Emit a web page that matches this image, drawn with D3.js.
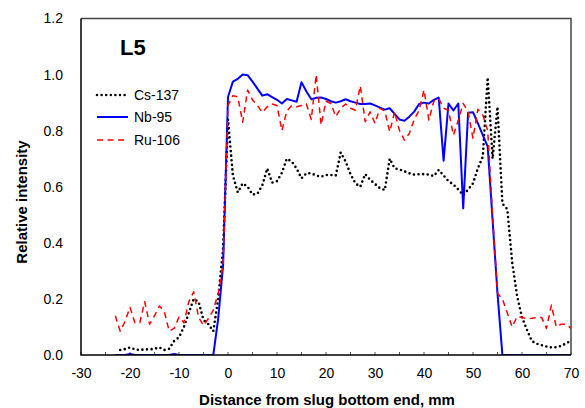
<!doctype html>
<html>
<head>
    <meta charset="utf-8"/>
    <style>
        html, body {
            margin: 0;
            padding: 0;
            background: #fff;
        }
        svg {
            display: block;
            font-family: "Liberation Sans", Arial, sans-serif;
        }
        .ticklabel {
            font-size: 14px;
            fill: #000;
        }
        .title {
            font-size: 15px;
            font-weight: bold;
        }
    </style>
    <script src="https://d3js.org/d3.v7.min.js"></script>
</head>
<body>

<svg id="chart" width="585" height="408"></svg>

<script>

    // Distance from slug bottom end, mm (one reading per mm)
    var distance = [
        -23, -22, -21, -20, -19, -18, -17, -16, -15, -14,
        -13, -12, -11, -10, -9, -8, -7, -6, -5, -4,
        -3, -2, -1, 0, 1, 2, 3, 4, 5, 6,
        7, 8, 9, 10, 11, 12, 13, 14, 15, 16,
        17, 18, 19, 20, 21, 22, 23, 24, 25, 26,
        27, 28, 29, 30, 31, 32, 33, 34, 35, 36,
        37, 38, 39, 40, 41, 42, 43, 44, 45, 46,
        47, 48, 49, 50, 51, 52, 53, 54, 55, 56,
        57, 58, 59, 60, 61, 62, 63, 64, 65, 66,
        67, 68, 69, 70
    ];

    var cs137 = [
        null, 0.018, 0.021, 0.027, 0.020, 0.018, 0.020, 0.020, 0.022, 0.027,
        0.018, 0.022, 0.050, 0.063, 0.100, 0.150, 0.200, 0.190, 0.125, 0.110,
        0.085, 0.200, 0.380, 0.840, 0.640, 0.580, 0.612, 0.600, 0.572, 0.575,
        0.605, 0.665, 0.615, 0.620, 0.650, 0.700, 0.690, 0.665, 0.630, 0.648,
        0.648, 0.640, 0.636, 0.642, 0.642, 0.640, 0.722, 0.690, 0.645, 0.612,
        0.600, 0.645, 0.625, 0.610, 0.595, 0.588, 0.700, 0.666, 0.662, 0.655,
        0.648, 0.643, 0.645, 0.645, 0.643, 0.638, 0.660, 0.640, 0.620, 0.608,
        0.590, 0.570, 0.590, 0.612, 0.666, 0.707, 0.990, 0.700, 0.885, 0.540,
        0.520, 0.330, 0.210, 0.135, 0.090, 0.050, 0.040, 0.035, 0.030, 0.027,
        0.028, 0.032, 0.042, 0.050
    ];

    var nb95 = [
        0, 0, 0, 0.004, 0, 0, 0, 0, 0, 0,
        0, 0, 0.004, 0, 0, 0, 0, 0, 0, 0,
        0, 0.13, 0.32, 0.92, 0.975, 0.985, 1.0, 0.998, 0.975, 0.95,
        0.925, 0.93, 0.92, 0.91, 0.897, 0.913, 0.908, 0.903, 0.973, 0.94,
        0.912, 0.917, 0.918, 0.913, 0.905, 0.90, 0.905, 0.912, 0.905, 0.90,
        0.895, 0.895, 0.897, 0.89, 0.882, 0.875, 0.88, 0.86, 0.84, 0.835,
        0.85, 0.868, 0.895, 0.90, 0.897, 0.91, 0.918, 0.693, 0.897, 0.872,
        0.897, 0.523, 0.864, 0.866, 0.826, 0.784, 0.743, 0.48, 0.22, 0,
        0, 0, 0, 0, 0, 0, 0, 0, 0, 0,
        0, 0, 0, 0
    ];

    var ru106 = [
        0.14, 0.085, 0.12, 0.17, 0.115, 0.115, 0.19, 0.11, 0.14, 0.175,
        0.155, 0.085, 0.095, 0.135, 0.115, 0.19, 0.225, 0.135, 0.105, 0.13,
        0.16, 0.22, 0.32, 0.89, 0.925, 0.92, 0.83, 0.945, 0.91, 0.89,
        0.865, 0.885, 0.895, 0.89, 0.80, 0.87, 0.89, 0.885, 0.89, 0.895,
        0.84, 1.0, 0.82, 0.905, 0.897, 0.85, 0.88, 0.895, 0.88, 0.873,
        0.96, 0.832, 0.867, 0.826, 0.88, 0.87, 0.796, 0.867, 0.80, 0.766,
        0.79, 0.84, 0.873, 0.945, 0.838, 0.905, 0.915, 0.88, 0.873, 0.784,
        0.838, 0.897, 0.867, 0.773, 0.876, 0.856, 0.80, 0.50, 0.22, 0.20,
        0.15, 0.10, 0.137, 0.134, 0.13, 0.131, 0.133, 0.134, 0.095, 0.178,
        0.10, 0.11, 0.11, 0.095
    ];

    var xTicks = [-30, -20, -10, 0, 10, 20, 30, 40, 50, 60, 70];
    var xMinorTicks = [-25, -15, -5, 5, 15, 25, 35, 45, 55, 65];
    var yTicks = [0, 0.2, 0.4, 0.6, 0.8, 1.0, 1.2];

    var series = [
        {name: "Cs-137", values: cs137, color: "#000", width: 2.6, dash: "0,4.6", cap: "round"},
        {name: "Nb-95", values: nb95, color: "#0000ff", width: 2, dash: null, cap: "butt"},
        {name: "Ru-106", values: ru106, color: "#ff0000", width: 1.5, dash: "6,4.5", cap: "butt"}
    ];

    var svg = d3.select("#chart");
    var plotLeft = 81, plotRight = 571, plotTop = 18.5, plotBottom = 355;

    var x = d3.scaleLinear().domain([-30, 70]).range([plotLeft, plotRight]);
    var y = d3.scaleLinear().domain([0, 1.2]).range([plotBottom, plotTop]);

    // plain hyphen for negatives, like the original
    var fmtX = function(d) { return String(d); };
    var fmtY = function(d) { return d.toFixed(1); };

    var clip = svg.append("defs").append("clipPath").attr("id", "plotclip");
    clip.append("rect")
        .attr("x", plotLeft).attr("y", plotTop - 2)
        .attr("width", plotRight - plotLeft).attr("height", plotBottom - plotTop + 2);

    // frame: top and right in grey
    svg.append("path")
        .attr("d", "M" + plotLeft + "," + plotTop + "H" + plotRight + "V" + plotBottom)
        .attr("fill", "none")
        .attr("stroke", "#444")
        .attr("stroke-width", 1.5);

    // x axis
    var xAxis = svg.append("g")
        .attr("transform", "translate(0," + plotBottom + ")")
        .call(d3.axisBottom(x).tickValues(xTicks).tickSize(0).tickPadding(13).tickFormat(fmtX));
    xAxis.select(".domain").remove();
    xAxis.selectAll("text").attr("class", "ticklabel");
    xAxis.attr("font-family", null).attr("font-size", null);

    svg.append("g").selectAll("line")
        .data(xTicks.concat(xMinorTicks))
        .join("line")
        .attr("x1", function(d) { return x(d); })
        .attr("x2", function(d) { return x(d); })
        .attr("y1", plotBottom)
        .attr("y2", plotBottom - 3)
        .attr("stroke", "#555")
        .attr("stroke-width", 1);

    // y axis
    var yAxis = svg.append("g")
        .attr("transform", "translate(" + plotLeft + ",0)")
        .call(d3.axisLeft(y).tickValues(yTicks).tickSize(0).tickPadding(18).tickFormat(fmtY));
    yAxis.select(".domain").remove();
    yAxis.selectAll("text").attr("class", "ticklabel");
    yAxis.attr("font-family", null).attr("font-size", null);

    // series lines
    var plot = svg.append("g").attr("clip-path", "url(#plotclip)");
    series.forEach(function(s) {
        var line = d3.line()
            .defined(function(d, i) { return s.values[i] !== null; })
            .x(function(d, i) { return x(distance[i]); })
            .y(function(d, i) { return y(s.values[i]); });
        plot.append("path")
            .datum(s.values)
            .attr("d", line)
            .attr("fill", "none")
            .attr("stroke", s.color)
            .attr("stroke-width", s.width)
            .attr("stroke-dasharray", s.dash)
            .attr("stroke-linecap", s.cap)
            .attr("stroke-linejoin", "round");
    });

    // left and bottom axis lines in black
    svg.append("path")
        .attr("d", "M" + plotLeft + "," + plotTop + "V" + plotBottom + "H" + plotRight)
        .attr("fill", "none")
        .attr("stroke", "#000")
        .attr("stroke-width", 1.5);

    // legend
    var legend = svg.append("g");
    var legendY = [95, 117, 140];
    series.forEach(function(s, i) {
        legend.append("line")
            .attr("x1", 97).attr("x2", 128)
            .attr("y1", legendY[i]).attr("y2", legendY[i])
            .attr("stroke", s.color)
            .attr("stroke-width", s.width)
            .attr("stroke-dasharray", s.dash)
            .attr("stroke-linecap", s.cap);
        legend.append("text")
            .attr("class", "ticklabel")
            .attr("x", 134)
            .attr("y", legendY[i])
            .attr("dy", "0.36em")
            .text(s.name);
    });

    svg.append("text")
        .attr("x", 120)
        .attr("y", 55)
        .attr("font-size", 22)
        .attr("font-weight", "bold")
        .text("L5");

    svg.append("text")
        .attr("class", "title")
        .attr("x", 327)
        .attr("y", 405)
        .attr("text-anchor", "middle")
        .text("Distance from slug bottom end, mm");

    svg.append("text")
        .attr("class", "title")
        .attr("transform", "translate(27,202) rotate(-90)")
        .attr("text-anchor", "middle")
        .text("Relative intensity");

</script>

</body>
</html>
